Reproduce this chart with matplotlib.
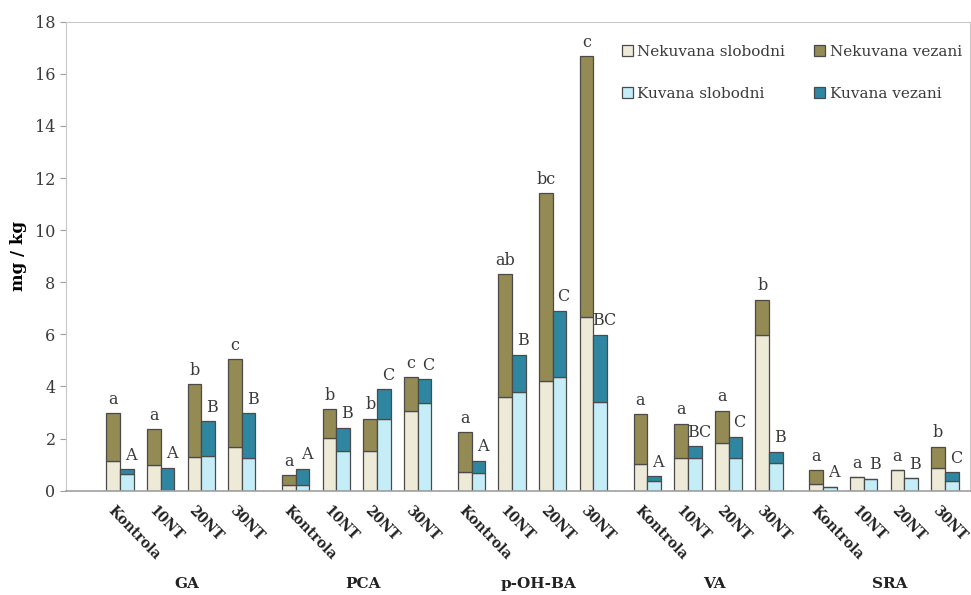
import numpy as np
import matplotlib
matplotlib.use('Agg')
import matplotlib.pyplot as plt

plt.rcParams['font.family'] = ['DejaVu Serif']

groups = ['GA', 'PCA', 'p-OH-BA', 'VA', 'SRA']
treatments = ['Kontrola', '10NT', '20NT', '30NT']

# mg/kg, order: groups x treatments
nek_slob = [1.15, 0.98, 1.30, 1.66,
            0.22, 2.01, 1.52, 3.06,
            0.73, 3.61, 4.21, 6.65,
            1.01, 1.25, 1.82, 5.97,
            0.24, 0.51, 0.79, 0.88]
nek_total = [2.97, 2.35, 4.09, 5.05,
             0.60, 3.13, 2.77, 4.36,
             2.25, 8.31, 11.41, 16.68,
             2.93, 2.57, 3.06, 7.32,
             0.78, 0.51, 0.79, 1.68]
kuv_slob = [0.66, 0.00, 1.33, 1.27,
            0.20, 1.52, 2.77, 3.35,
            0.69, 3.79, 4.36, 3.41,
            0.37, 1.24, 1.24, 1.07,
            0.16, 0.45, 0.47, 0.38]
kuv_total = [0.82, 0.87, 2.67, 2.97,
             0.84, 2.42, 3.90, 4.27,
             1.14, 5.22, 6.91, 5.98,
             0.56, 1.71, 2.06, 1.50,
             0.16, 0.45, 0.47, 0.70]
nek_letters = ['a', 'a', 'b', 'c',
               'a', 'b', 'b', 'c',
               'a', 'ab', 'bc', 'c',
               'a', 'a', 'a', 'b',
               'a', 'a', 'a', 'b']
kuv_letters = ['A', 'A', 'B', 'B',
               'A', 'B', 'C', 'C',
               'A', 'B', 'C', 'BC',
               'A', 'BC', 'C', 'B',
               'A', 'B', 'B', 'C']

nek_slob = np.array(nek_slob)
nek_vez = np.array(nek_total) - nek_slob
kuv_slob = np.array(kuv_slob)
kuv_vez = np.array(kuv_total) - kuv_slob

w = 0.337
pitch = 4.33
x = np.array([g * pitch + i for g in range(len(groups)) for i in range(len(treatments))])

c_ns = '#EDEAD8'
c_nv = '#948A54'
c_ks = '#C5EDF8'
c_kv = '#2F86A0'
edge = '#4A4A4A'

fig = plt.figure(figsize=(9.71, 5.95), dpi=100)
ax = fig.add_axes([0.068, 0.1753, 0.931, 0.7882])

ax.bar(x - w / 2, nek_slob, w, color=c_ns, edgecolor=edge, linewidth=0.9, label='Nekuvana slobodni')
ax.bar(x - w / 2, nek_vez, w, bottom=nek_slob, color=c_nv, edgecolor=edge, linewidth=0.9, label='Nekuvana vezani')
ax.bar(x + w / 2, kuv_slob, w, color=c_ks, edgecolor=edge, linewidth=0.9, label='Kuvana slobodni')
ax.bar(x + w / 2, kuv_vez, w, bottom=kuv_slob, color=c_kv, edgecolor=edge, linewidth=0.9, label='Kuvana vezani')

for xi, t, s in zip(x, nek_total, nek_letters):
    ax.annotate(s, (xi - w / 2, t), xytext=(0, 4), textcoords='offset points',
                ha='center', va='bottom', fontsize=11.5, color='#3A3A3A')
for xi, t, s in zip(x, kuv_total, kuv_letters):
    ax.annotate(s, (xi + w / 2, t), xytext=(3, 4), textcoords='offset points',
                ha='center', va='bottom', fontsize=11.5, color='#3A3A3A')

ax.set_xlim(-1.33, 20.94)
ax.set_ylim(0, 18)
ax.set_yticks(np.arange(0, 19, 2))
ax.set_xticks([])
ax.tick_params(axis='y', labelsize=11.5, colors='#3A3A3A', length=4, color='#A0A0A0')

for sp in ['top', 'left', 'right']:
    ax.spines[sp].set_color('#C8C8C8')
ax.spines['bottom'].set_color('#A0A0A0')
ax.spines['bottom'].set_linewidth(1.2)

ax.set_ylabel('mg / kg', fontsize=12, fontweight='bold', labelpad=6)

tr = ax.get_xaxis_transform()
for xi, lab in zip(x, treatments * len(groups)):
    ax.text(xi - 0.12, -0.027, lab, transform=tr, rotation=-46, rotation_mode='anchor',
            ha='left', va='top', fontsize=10, fontweight='bold', color='#222222')
for g, name in enumerate(groups):
    ax.text(g * pitch + 1.65, -0.2, name, transform=tr, ha='center', va='center',
            fontsize=11, fontweight='bold', color='#222222')

h, l = ax.get_legend_handles_labels()
order = [0, 2, 1, 3]
ax.legend([h[i] for i in order], [l[i] for i in order], ncol=2, loc='upper left',
          bbox_to_anchor=(0.6, 0.98), frameon=False, fontsize=11, handlelength=0.7,
          handleheight=0.7, handletextpad=0.3, columnspacing=1.9, labelspacing=1.85,
          labelcolor='#3A3A3A')

fig.savefig('out.png', dpi=100)
